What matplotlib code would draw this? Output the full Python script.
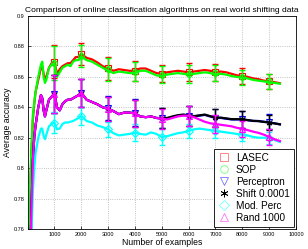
import matplotlib
matplotlib.use('Agg')
import matplotlib.pyplot as plt
from matplotlib.lines import Line2D

plt.rcParams['font.family'] = ['Liberation Sans', 'DejaVu Sans']

# running accuracy curves
x = [50, 100, 150, 200, 250, 300, 400, 500, 550, 600, 650, 700, 800, 900, 1000,
     1100, 1200, 1300, 1400, 1500, 1600, 1700, 1800, 1900, 2000,
     2200, 2400, 2600, 2800, 3000, 3200, 3400, 3600, 3800, 4000,
     4200, 4400, 4600, 4800, 5000, 5200, 5400, 5600, 5800, 6000,
     6200, 6400, 6600, 6800, 7000, 7200, 7400, 7600, 7800, 8000,
     8200, 8400, 8600, 8800, 9000, 9200, 9400]

lasec = [0.750, 0.785, 0.812, 0.832, 0.842, 0.850, 0.858, 0.866, 0.867, 0.862, 0.858, 0.860, 0.866, 0.869, 0.870,
         0.862, 0.865, 0.867, 0.868, 0.869, 0.869, 0.871, 0.873, 0.873, 0.8752,
         0.8725, 0.8715, 0.8695, 0.867, 0.8655, 0.864, 0.865, 0.8645, 0.864, 0.864,
         0.8655, 0.8655, 0.864, 0.8625, 0.862, 0.863, 0.8635, 0.864, 0.8635, 0.863,
         0.8635, 0.864, 0.8645, 0.864, 0.863, 0.8635, 0.863, 0.862, 0.861, 0.8605,
         0.860, 0.859, 0.8585, 0.8575, 0.857, 0.8565, 0.8558]

sop = [0.755, 0.790, 0.815, 0.835, 0.843, 0.850, 0.860, 0.868, 0.870, 0.860, 0.856, 0.858, 0.866, 0.868, 0.869,
       0.860, 0.863, 0.866, 0.867, 0.868, 0.867, 0.870, 0.871, 0.871, 0.8735,
       0.871, 0.870, 0.868, 0.866, 0.864, 0.8625, 0.8635, 0.863, 0.8625, 0.8625,
       0.864, 0.864, 0.8625, 0.861, 0.8605, 0.8615, 0.862, 0.8625, 0.862, 0.8615,
       0.862, 0.8625, 0.863, 0.8625, 0.8615, 0.862, 0.8615, 0.8605, 0.860, 0.8595,
       0.859, 0.858, 0.8575, 0.857, 0.8565, 0.856, 0.8555]

perceptron = [0.700, 0.740, 0.775, 0.805, 0.820, 0.828, 0.840, 0.848, 0.846, 0.838, 0.834, 0.838, 0.845, 0.847, 0.849,
              0.840, 0.838, 0.842, 0.844, 0.845, 0.845, 0.846, 0.847, 0.848, 0.8495,
              0.845, 0.8435, 0.842, 0.840, 0.839, 0.8375, 0.8355, 0.8365, 0.8365, 0.836,
              0.834, 0.8335, 0.834, 0.833, 0.8325, 0.8325, 0.8335, 0.8345, 0.835, 0.8345,
              0.834, 0.8345, 0.835, 0.834, 0.833, 0.833, 0.8325, 0.832, 0.832, 0.832,
              0.8315, 0.831, 0.831, 0.8305, 0.830, 0.8295, 0.8288]

shift = [0.700, 0.740, 0.775, 0.805, 0.820, 0.828, 0.840, 0.848, 0.846, 0.838, 0.834, 0.838, 0.845, 0.847, 0.849,
         0.840, 0.838, 0.842, 0.844, 0.845, 0.845, 0.846, 0.847, 0.848, 0.8495,
         0.845, 0.8435, 0.842, 0.840, 0.839, 0.8375, 0.8355, 0.8365, 0.8365, 0.836,
         0.834, 0.8335, 0.834, 0.833, 0.8328, 0.833, 0.834, 0.8348, 0.8352, 0.8348,
         0.8342, 0.8347, 0.8352, 0.8342, 0.8332, 0.8332, 0.8327, 0.8322, 0.8322, 0.8321,
         0.8316, 0.8311, 0.8309, 0.8304, 0.8300, 0.8294, 0.8288]

modperc = [0.650, 0.700, 0.755, 0.785, 0.800, 0.810, 0.820, 0.826, 0.826, 0.821, 0.819, 0.822, 0.8275, 0.829, 0.830,
           0.8255, 0.826, 0.829, 0.830, 0.830, 0.8305, 0.831, 0.832, 0.833, 0.8345,
           0.831, 0.830, 0.828, 0.827, 0.8255, 0.823, 0.8215, 0.822, 0.8225, 0.8233,
           0.8225, 0.822, 0.8235, 0.8225, 0.8205, 0.821, 0.822, 0.823, 0.8235, 0.8245,
           0.8255, 0.826, 0.8255, 0.825, 0.8243, 0.824, 0.8235, 0.823, 0.8225, 0.822,
           0.8215, 0.8205, 0.820, 0.820, 0.8198, 0.8185, 0.8172]

rand1000 = [0.700, 0.740, 0.775, 0.805, 0.820, 0.828, 0.840, 0.848, 0.846, 0.838, 0.834, 0.838, 0.845, 0.847, 0.849,
            0.840, 0.838, 0.842, 0.844, 0.845, 0.845, 0.846, 0.847, 0.848, 0.8495,
            0.845, 0.8435, 0.842, 0.840, 0.839, 0.8375, 0.8355, 0.8365, 0.8365, 0.836,
            0.834, 0.8335, 0.834, 0.833, 0.8325, 0.832, 0.833, 0.834, 0.8345, 0.8345,
            0.8335, 0.832, 0.8305, 0.8295, 0.829, 0.8285, 0.828, 0.8275, 0.8265, 0.8258,
            0.825, 0.824, 0.8232, 0.822, 0.8205, 0.819, 0.8178]

# marker / error bar positions
xm = [1000, 2000, 3000, 4000, 5000, 6000, 7000, 8000, 9000]
lasec_m = [0.870, 0.8752, 0.8655, 0.864, 0.862, 0.863, 0.863, 0.8605, 0.857]
sop_m = [0.869, 0.8735, 0.865, 0.8635, 0.8615, 0.862, 0.8625, 0.8597, 0.857]
perc_m = [0.849, 0.8495, 0.8395, 0.8365, 0.8328, 0.8345, 0.833, 0.832, 0.8306]
shift_m = [0.849, 0.8495, 0.839, 0.836, 0.8328, 0.8345, 0.8332, 0.8321, 0.8300]
mod_m = [0.830, 0.8345, 0.8255, 0.8233, 0.8205, 0.8245, 0.8243, 0.822, 0.8198]
rand_m = [0.849, 0.8495, 0.839, 0.836, 0.8325, 0.8345, 0.829, 0.8258, 0.8205]

top_err = [0.011, 0.0073, 0.0077, 0.0065, 0.0057, 0.0058, 0.0055, 0.005, 0.0052]
mid_err = [0.0125, 0.009, 0.008, 0.0088, 0.0067, 0.0066, 0.006, 0.0055, 0.005]
low_err = [0.007, 0.006, 0.005, 0.0055, 0.0053, 0.0045, 0.0045, 0.004, 0.004]

asterisk = (6, 2, 0)
series = [
    ('LASEC', lasec, lasec_m, top_err, 'red', 's'),
    ('SOP', sop, sop_m, top_err, 'lime', 'o'),
    ('Perceptron', perceptron, perc_m, mid_err, 'blue', 'v'),
    ('Shift 0.0001', shift, shift_m, mid_err, 'black', asterisk),
    ('Mod. Perc', modperc, mod_m, low_err, 'cyan', 'D'),
    ('Rand 1000', rand1000, rand_m, mid_err, 'magenta', '^'),
]

fig = plt.figure(figsize=(3.08, 2.49), dpi=100)
ax = fig.add_axes([0.0893, 0.0803, 0.8718, 0.8554])

for name, y, ym, err, col, mk in series:
    ax.plot(x, y, color=col, lw=1.6)
    ax.errorbar(xm, ym, yerr=err, fmt='none', ecolor=col,
                elinewidth=1, capsize=2, capthick=1)
    ax.plot(xm, ym, linestyle='none', marker=mk, mfc='none', mec=col,
            ms=4, mew=0.8)

ax.set_xlim(0, 10000)
ax.set_ylim(0.76, 0.9)
ax.set_xticks(range(1000, 10001, 1000))
ax.set_yticks([0.76, 0.78, 0.8, 0.82, 0.84, 0.86, 0.88, 0.9])
ax.set_yticklabels(['0.76', '0.78', '0.8', '0.82', '0.84', '0.86', '0.88', '0.9'])
ax.tick_params(labelsize=4, length=2, width=0.5, direction='in', pad=2)
ax.grid(True, color='#b0b0b0', linestyle=':', linewidth=0.6)
for s in ax.spines.values():
    s.set_linewidth(0.6)

ax.set_title('Comparison of online classification algorithms on real world shifting data',
             fontsize=6.1, pad=3)
ax.set_xlabel('Number of examples', fontsize=6.2, labelpad=1)
ax.set_ylabel('Average accuracy', fontsize=6.2, labelpad=1)

handles = [Line2D([], [], linestyle='none', marker=mk, color=col, mfc='none',
                  mec=col, ms=5.5, mew=0.6, alpha=0.55 if col != 'black' else 1)
           for name, y, ym, err, col, mk in series]
leg = ax.legend(handles, [s[0] for s in series], loc='lower right', fontsize=7.2,
                frameon=True, fancybox=False, edgecolor='black', framealpha=1,
                borderaxespad=0.25, handletextpad=0.5, labelspacing=0.2,
                borderpad=0.4, handlelength=1.3)
leg.get_frame().set_linewidth(0.6)

fig.savefig('out.png', dpi=100)
